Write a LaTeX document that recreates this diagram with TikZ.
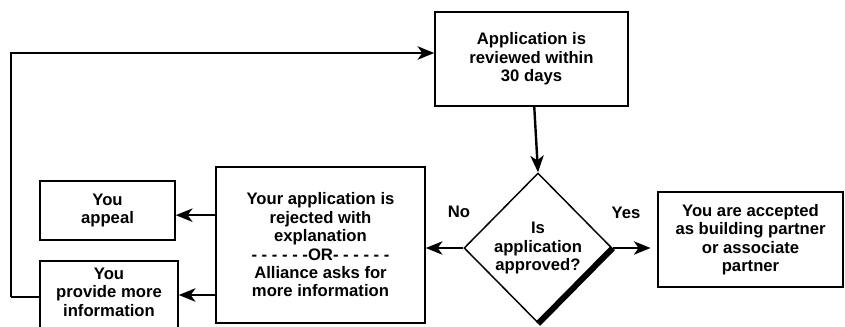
\documentclass[tikz,border=0pt]{standalone}
\usepackage{fontspec}
\setmainfont{Liberation Sans}
\usetikzlibrary{arrows.meta,shapes.geometric}
\tikzset{
  blk/.style={draw,rectangle,line width=1.1pt,align=center,inner sep=2pt,font=\fontsize{12.5}{13.8}\selectfont\bfseries},
  decblk/.style={blk,diamond,inner sep=0pt},
  arr/.style={-{Stealth[length=12.5pt,width=10pt,inset=3.5pt]},line width=1.8pt},
  fbline/.style={line width=1.5pt},
  lbl/.style={font=\fontsize{12.5}{13.5}\selectfont\bfseries}
}
\begin{document}
\begin{tikzpicture}[x=0.75pt,y=-0.75pt]
  \useasboundingbox (0,0) rectangle (845,326);
  % Review step
  \node[blk, minimum width=144.75pt, minimum height=70.5pt] (review) at (531.5,59) {Application is\\reviewed within\\30 days};

  % Decision
  \node[decblk, minimum width=111pt, minimum height=112.5pt] (dec) at (538,248) {Is\\application\\approved?};
  \draw[line width=4.5pt] (dec.east) -- (dec.south);

  % Outcomes
  \node[blk, minimum width=156.75pt, minimum height=117pt] (mid) at (320.5,245) {Your application is\\rejected with\\explanation\\- - - - - -OR- - - - - -\\Alliance asks for\\more information};
  \node[blk, minimum width=138.75pt, minimum height=71.25pt] (accept) at (750.5,239.5) {You are accepted\\as building partner\\or associate\\partner};

  % Follow-up steps
  \node[blk, minimum width=101.25pt, minimum height=44.25pt] (appeal) at (107.5,210.5) {You\\appeal};
  \node[blk, minimum width=103.5pt, minimum height=55.5pt, text depth=9pt] (provide) at (109,298) {You\\provide more\\information};

  % Connections
  \draw[arr] (review) -- (dec.north);
  \draw[arr] (dec.west) -- (mid.east |- dec.west);
  \draw[arr, shorten >=5pt] (dec.east) -- (accept.west |- dec.east);
  \node[lbl] (no) at (459,212) {No};
  \node[lbl] (yes) at (626,213) {Yes};
  \draw[arr] ([yshift=-3.5pt]mid.west |- appeal.east) -- ([yshift=-3.5pt]appeal.east);
  \draw[arr] ([yshift=2.25pt]mid.west |- provide.east) -- ([yshift=2.25pt]provide.east);

  % Feedback loop
  \draw[fbline] ([yshift=1pt]provide.west) -- ++(-28,0) coordinate (fb);
  \draw[arr] (fb) |- ([yshift=4.5pt]review.west);
\end{tikzpicture}
\end{document}
